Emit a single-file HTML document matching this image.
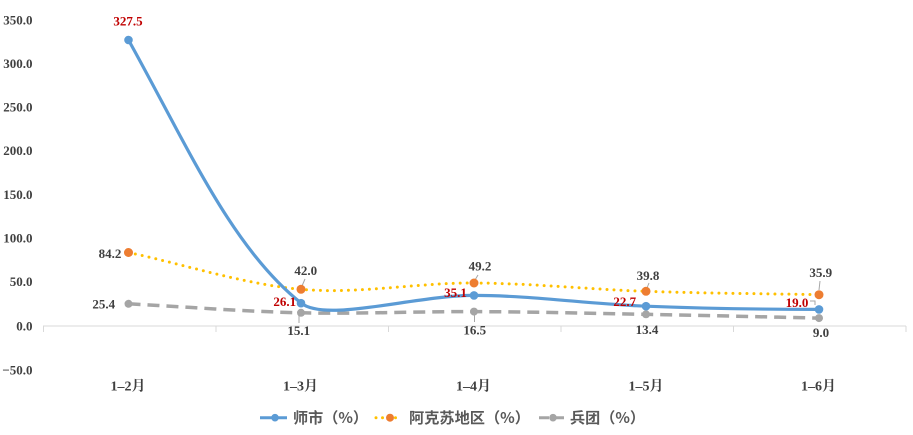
<!DOCTYPE html>
<html><head><meta charset="utf-8"><style>
html,body{margin:0;padding:0;background:#fff;}
svg{display:block;}
.ax{font-family:"Liberation Serif","Noto Serif CJK SC",serif;font-weight:bold;font-size:13px;fill:#404040;}
.dl{font-family:"Liberation Serif",serif;font-weight:bold;font-size:13px;fill:#404040;}
.rd{fill:#C00000;}
.cat{font-family:"Liberation Serif","Noto Serif CJK SC",serif;font-weight:bold;font-size:14px;fill:#404040;}
.lg{font-family:"Noto Sans CJK SC","Liberation Sans",sans-serif;font-weight:bold;font-size:15px;fill:#595959;}
</style></head><body>
<svg width="913" height="435" viewBox="0 0 913 435" xmlns="http://www.w3.org/2000/svg">
<rect width="913" height="435" fill="#fff"/>
<!-- y axis labels -->
<g class="ax" text-anchor="end" dominant-baseline="central">
<text x="32.5" y="20">350.0</text>
<text x="32.5" y="63.5">300.0</text>
<text x="32.5" y="107">250.0</text>
<text x="32.5" y="150.7">200.0</text>
<text x="32.5" y="194.3">150.0</text>
<text x="32.5" y="238">100.0</text>
<text x="32.5" y="281.7">50.0</text>
<text x="32.5" y="326">0.0</text>
<text x="32.5" y="370">−50.0</text>
</g>
<!-- x axis -->
<line x1="43" y1="326" x2="906" y2="326" stroke="#D9D9D9" stroke-width="1"/>
<g stroke="#D9D9D9" stroke-width="1">
<line x1="43.5" y1="326" x2="43.5" y2="332"/>
<line x1="216" y1="326" x2="216" y2="332"/>
<line x1="388.5" y1="326" x2="388.5" y2="332"/>
<line x1="561" y1="326" x2="561" y2="332"/>
<line x1="733.5" y1="326" x2="733.5" y2="332"/>
<line x1="906" y1="326" x2="906" y2="332"/>
</g>
<!-- category labels -->
<g class="cat" text-anchor="middle" dominant-baseline="central">
<text x="128" y="387">1–2月</text>
<text x="300.5" y="387">1–3月</text>
<text x="473.5" y="387">1–4月</text>
<text x="646" y="387">1–5月</text>
<text x="818.5" y="387">1–6月</text>
</g>
<!-- gray dashed series -->
<path d="M128.5,303.8 C186,306.8 243.4,311.5 301,312.8 C358.6,314.1 416.5,311.35 474,311.6 C531.5,311.85 588.5,313.2 646,314.3 C703.5,315.4 761.3,316.8 819,318.1" fill="none" stroke="#A5A5A5" stroke-width="3.5" stroke-dasharray="12 7"/>
<!-- orange dotted series -->
<path d="M128.5,252.5 C186,264.8 243.4,284.2 301,289.3 C358.6,294.4 416.5,282.7 474,283 C531.5,283.3 588.5,289.35 646,291.3 C703.5,293.25 761.3,293.6 819,294.7" fill="none" stroke="#FFC000" stroke-width="3" stroke-linecap="round" stroke-dasharray="0 7"/>
<!-- blue series -->
<path d="M128.5,40 C188.5,148 231,247 301,303 C326,323 414,295.4 474,295.4 C531,295.4 589,304 646,306.2 C703,308.4 762,309.4 819,309.4" fill="none" stroke="#5B9BD5" stroke-width="3.2" stroke-linecap="round"/>
<!-- leader lines -->
<g stroke="#A6A6A6" stroke-width="1" fill="none">
<line x1="305" y1="279" x2="302" y2="286"/>
<line x1="299" y1="316" x2="299" y2="323"/>
<line x1="478" y1="275" x2="475" y2="280"/>
<line x1="474.5" y1="315" x2="474.5" y2="322"/>
<line x1="649" y1="283" x2="647" y2="288"/>
<line x1="820" y1="281" x2="819" y2="290"/>
<polyline points="810,301 815,301 815,305"/>
</g>
<!-- markers -->
<g fill="#A5A5A5">
<circle cx="128.5" cy="303.8" r="4"/>
<circle cx="301" cy="312.8" r="4"/>
<circle cx="474" cy="311.6" r="4"/>
<circle cx="646" cy="314.3" r="4"/>
<circle cx="819" cy="318.1" r="4"/>
</g>
<g fill="#ED7D31">
<circle cx="128.5" cy="252.5" r="4.5"/>
<circle cx="301" cy="289.3" r="4.5"/>
<circle cx="474" cy="283" r="4.5"/>
<circle cx="646" cy="291.3" r="4.5"/>
<circle cx="819" cy="294.7" r="4.5"/>
</g>
<g fill="#5B9BD5">
<circle cx="128.5" cy="40" r="4.3"/>
<circle cx="301" cy="303.2" r="4.3"/>
<circle cx="474" cy="295.4" r="4.3"/>
<circle cx="646" cy="306.2" r="4.3"/>
<circle cx="819" cy="309.4" r="4.3"/>
</g>
<!-- data labels -->
<g class="dl" text-anchor="middle" dominant-baseline="central">
<text class="dl rd" x="128" y="21">327.5</text>
<text x="110" y="253.3">84.2</text>
<text x="103.7" y="304">25.4</text>
<text x="305.8" y="270.7">42.0</text>
<text class="dl rd" x="284.8" y="301.7">26.1</text>
<text x="298.7" y="330.7">15.1</text>
<text x="480" y="266">49.2</text>
<text class="dl rd" x="455.5" y="292.7">35.1</text>
<text x="474.7" y="330">16.5</text>
<text x="648" y="275.7">39.8</text>
<text class="dl rd" x="624.7" y="301.3">22.7</text>
<text x="647" y="329.3">13.4</text>
<text x="820.8" y="272.3">35.9</text>
<text class="dl rd" x="797" y="302.3">19.0</text>
<text x="821" y="332.3">9.0</text>
</g>
<!-- legend -->
<line x1="260" y1="417.7" x2="287" y2="417.7" stroke="#5B9BD5" stroke-width="3"/>
<circle cx="275" cy="417.7" r="3.8" fill="#5B9BD5"/>
<text class="lg" x="293" y="417.7" dominant-baseline="central" textLength="75" lengthAdjust="spacingAndGlyphs">师市（%）</text>
<line x1="376" y1="417.7" x2="402" y2="417.7" stroke="#FFC000" stroke-width="3" stroke-linecap="round" stroke-dasharray="0 6.5"/>
<circle cx="390" cy="417.7" r="4" fill="#ED7D31"/>
<text class="lg" x="409" y="417.7" dominant-baseline="central" textLength="121" lengthAdjust="spacingAndGlyphs">阿克苏地区（%）</text>
<line x1="539" y1="417.7" x2="567" y2="417.7" stroke="#A5A5A5" stroke-width="3" stroke-dasharray="10 5"/>
<circle cx="553" cy="417.7" r="3.8" fill="#A5A5A5"/>
<text class="lg" x="570" y="417.7" dominant-baseline="central" textLength="75" lengthAdjust="spacingAndGlyphs">兵团（%）</text>
</svg>
</body></html>
